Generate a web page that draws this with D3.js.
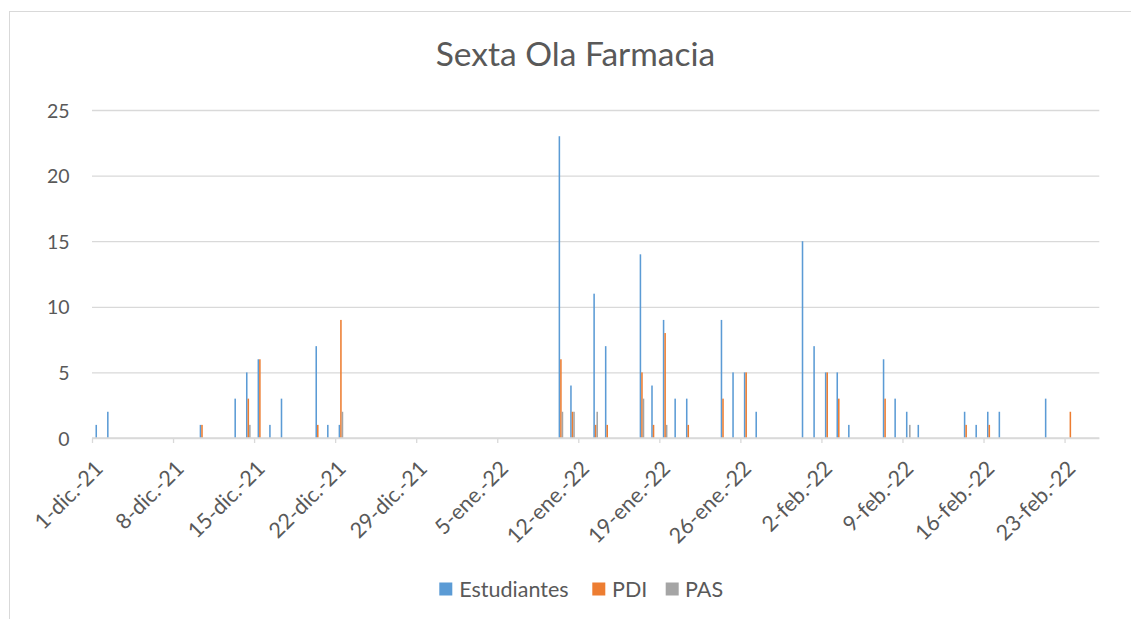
<!DOCTYPE html>
<html>
<head>
<meta charset="utf-8">
<script src="https://cdn.jsdelivr.net/npm/d3@7"></script>
<style>
  html, body { margin: 0; padding: 0; background: #fff; }
  svg { display: block; }
  text { font-family: Lato, "Open Sans", "Noto Sans", sans-serif; fill: #595959; }
</style>
</head>
<body>
<svg id="chart" width="1131" height="619"></svg>
<script>
// ---- data ----
const dates = ["2021-12-01","2021-12-02","2021-12-10","2021-12-13","2021-12-14","2021-12-15","2021-12-16","2021-12-17","2021-12-20","2021-12-21","2021-12-22",
  "2022-01-10","2022-01-11","2022-01-13","2022-01-14","2022-01-17","2022-01-18","2022-01-19","2022-01-20","2022-01-21","2022-01-24","2022-01-25","2022-01-26","2022-01-27","2022-01-31",
  "2022-02-01","2022-02-02","2022-02-03","2022-02-04","2022-02-07","2022-02-08","2022-02-09","2022-02-10","2022-02-14","2022-02-15","2022-02-16","2022-02-17","2022-02-21","2022-02-23"];
const estudiantes = [1,2,1,3,5,6,1,3,7,1,1, 23,4,11,7,14,4,9,3,3,9,5,5,2,15, 7,5,5,1,6,3,2,1,2,1,2,2,3,0];
const pdi         = [0,0,1,0,3,6,0,0,1,0,9, 6,2,1,1,5,1,8,0,1,3,0,5,0,0, 0,5,3,0,3,0,0,0,1,0,1,0,0,2];
const pas         = [0,0,0,0,1,0,0,0,0,0,2, 2,2,2,0,3,0,1,0,0,0,0,0,0,0, 0,0,0,0,0,0,1,0,0,0,0,0,0,0];
const seriesNames = ["Estudiantes","PDI","PAS"];
const seriesColors = ["#5B9BD5","#ED7D31","#A5A5A5"];
const axisStart = "2021-12-01", axisEnd = "2022-02-26";
const tickDates = ["2021-12-01","2021-12-08","2021-12-15","2021-12-22","2021-12-29","2022-01-05","2022-01-12","2022-01-19","2022-01-26","2022-02-02","2022-02-09","2022-02-16","2022-02-23"];
const tickLabels = ["1-dic.-21","8-dic.-21","15-dic.-21","22-dic.-21","29-dic.-21","5-ene.-22","12-ene.-22","19-ene.-22","26-ene.-22","2-feb.-22","9-feb.-22","16-feb.-22","23-feb.-22"];
const yTicks = [0,5,10,15,20,25];
const title = "Sexta Ola Farmacia";

// ---- layout ----
const parse = d3.utcParse("%Y-%m-%d");
const svg = d3.select("#chart");
const plot = { left: 92, right: 1099.3, top: 110, bottom: 438 };

// chart frame
svg.append("rect").attr("x", 9.5).attr("y", 11.5).attr("width", 1140).attr("height", 640)
  .attr("fill", "#fff").attr("stroke", "#d9d9d9").attr("stroke-width", 1);

const x = d3.scaleUtc().domain([parse(axisStart), parse(axisEnd)]).range([plot.left, plot.right]);
const y = d3.scaleLinear().domain([0, 25]).range([plot.bottom, plot.top]);
const dayW = x(parse("2021-12-02")) - x(parse("2021-12-01"));
const inner = d3.scaleBand().domain(seriesNames).range([dayW * 0.3, dayW * 0.7]).padding(0);

// gridlines + y labels
const yAxis = d3.axisLeft(y).tickValues(yTicks).tickSize(-(plot.right - plot.left)).tickPadding(22.5);
const gy = svg.append("g").attr("transform", `translate(${plot.left},0)`).call(yAxis);
gy.select(".domain").remove();
gy.selectAll(".tick line").attr("stroke", "#d9d9d9").attr("stroke-width", 1.3);
gy.selectAll(".tick text").style("font-size", "19.5px").attr("fill", "#595959").attr("dy", "0.36em");

// bars
const rows = dates.map((d, i) => ({ date: parse(d), values: [estudiantes[i], pdi[i], pas[i]] }));
seriesNames.forEach((name, si) => {
  svg.append("g").selectAll("rect").data(rows.filter(r => r.values[si] > 0)).join("rect")
    .attr("x", r => x(r.date) + inner(name))
    .attr("width", inner.bandwidth())
    .attr("y", r => y(r.values[si]))
    .attr("height", r => y(0) - y(r.values[si]))
    .attr("fill", seriesColors[si]);
});

// x axis
const xAxis = d3.axisBottom(x).tickValues(tickDates.map(parse)).tickSize(5)
  .tickFormat((d, i) => tickLabels[i]);
const gx = svg.append("g").attr("transform", `translate(0,${plot.bottom})`).call(xAxis);
gx.select(".domain").attr("stroke", "#d9d9d9").attr("stroke-width", 1.3).attr("d", `M${plot.left},0H${plot.right}`);
gx.selectAll(".tick line").attr("stroke", "#d9d9d9").attr("stroke-width", 1.3);
gx.selectAll(".tick text")
  .style("font-size", "21.5px").attr("fill", "#595959")
  .attr("text-anchor", "end").attr("dy", null).attr("y", 0)
  .attr("transform", `translate(${dayW + 0.2},32) rotate(-45)`);

// title
svg.append("text").attr("x", 575.5).attr("y", 66).attr("text-anchor", "middle")
  .style("font-size", "33.5px").text(title);

// legend
const legend = svg.append("g");
const legendX = [439.3, 592.3, 665.7];
const legendTextX = [459.3, 612, 685];
seriesNames.forEach((name, i) => {
  legend.append("rect").attr("x", legendX[i]).attr("y", 582.5).attr("width", 13).attr("height", 13).attr("fill", seriesColors[i]);
  legend.append("text").attr("x", legendTextX[i]).attr("y", 596.5)
    .style("font-size", "21.5px").text(name);
});
</script>
</body>
</html>
